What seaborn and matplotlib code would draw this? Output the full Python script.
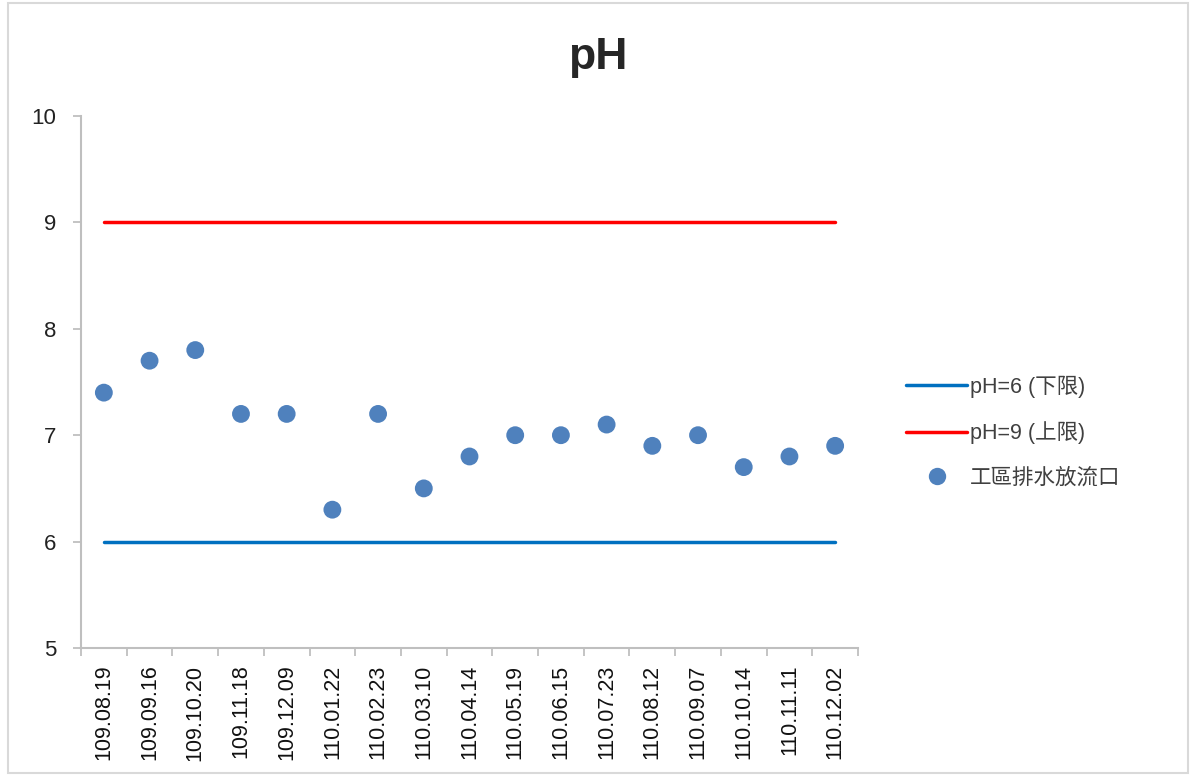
import matplotlib
matplotlib.use("Agg")
import matplotlib.pyplot as plt
import seaborn as sns
import pandas as pd
from matplotlib.patches import Rectangle
from matplotlib.lines import Line2D

dates = ["109.08.19", "109.09.16", "109.10.20", "109.11.18", "109.12.09", "110.01.22",
         "110.02.23", "110.03.10", "110.04.14", "110.05.19", "110.06.15", "110.07.23",
         "110.08.12", "110.09.07", "110.10.14", "110.11.11", "110.12.02"]
ph_values = [7.4, 7.7, 7.8, 7.2, 7.2, 6.3, 7.2, 6.5, 6.8, 7.0, 7.0, 7.1, 6.9, 7.0, 6.7, 6.8, 6.9]
lower_limit = [6] * len(dates)
upper_limit = [9] * len(dates)
series_names = ["pH=6 (下限)", "pH=9 (上限)", "工區排水放流口"]
yticks = [5, 6, 7, 8, 9, 10]

sns.set_style("white")
plt.rcParams['font.family'] = ['Liberation Sans', 'Noto Sans CJK TC', 'DejaVu Sans']

df = pd.DataFrame({"date": dates, "ph": ph_values, "low": lower_limit, "high": upper_limit})

fig = plt.figure(figsize=(11.92, 7.76), dpi=100)
ax = fig.add_axes([81/1192, 1-648/776, (858-81)/1192, (648-116)/776])

sns.lineplot(data=df, x="date", y="low", ax=ax, color="#0070C0", lw=2.5, sort=False)
sns.lineplot(data=df, x="date", y="high", ax=ax, color="#FF0000", lw=2.5, sort=False)
sns.scatterplot(data=df, x="date", y="ph", ax=ax, color="#4F81BD", s=165, edgecolor="none")

ax.set_xlim(-0.5, len(dates) - 0.5)
ax.set_ylim(5, 10)
ax.set_yticks(yticks)
ax.set_yticklabels([str(t) for t in yticks], fontsize=16, color="#222222")
ax.set_xticks(range(len(dates)))
ax.set_xticklabels(dates, rotation=90, fontsize=15.5, color="#111111")
ax.set_xlabel("")
ax.set_ylabel("")
ax.xaxis.set_minor_locator(matplotlib.ticker.FixedLocator([i - 0.5 for i in range(len(dates) + 1)]))
ax.tick_params(axis="x", which="major", length=0, pad=12)
ax.tick_params(axis="x", which="minor", length=6, color="#BFBFBF", width=1.3, bottom=True)
ax.tick_params(axis="y", length=6, color="#BFBFBF", width=1.3, left=True, pad=12)
for side in ["top", "right"]:
    ax.spines[side].set_visible(False)
for side in ["left", "bottom"]:
    ax.spines[side].set_color("#BFBFBF")
    ax.spines[side].set_linewidth(1.5)

fig.text(598/1192, 1-58/776, "pH", ha="center", va="center", fontsize=32, fontweight="bold",
         family=["Liberation Sans", "DejaVu Sans"])

handles = [Line2D([], [], color="#0070C0", lw=2.5),
           Line2D([], [], color="#FF0000", lw=2.5),
           Line2D([], [], color="#4F81BD", marker="o", ls="none", markersize=12.5, markeredgecolor="none")]
leg = fig.legend(handles, series_names, loc="center left", bbox_to_anchor=(887/1192, 1-432/776),
                 frameon=False, handlelength=2.8, handletextpad=0.15, labelspacing=1.1,
                 prop={"family": ["Liberation Sans", "Noto Sans CJK TC"], "size": 15.5})
for t in leg.get_texts():
    t.set_color("#404040")

fig.patches.append(Rectangle((8/1192, 3/776), 1180/1192, 770/776, transform=fig.transFigure,
                             fill=False, edgecolor="#D9D9D9", lw=1.5))

fig.savefig("out.png", dpi=100)
